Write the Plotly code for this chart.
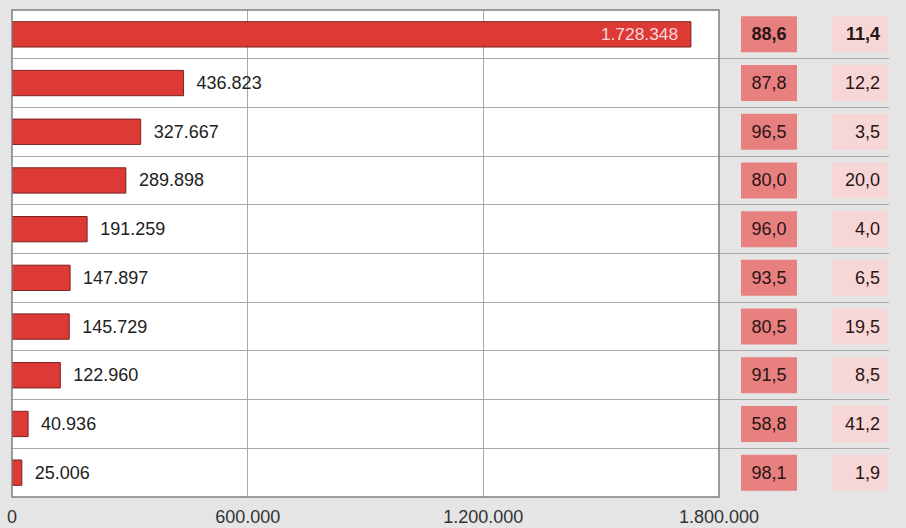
import plotly.graph_objects as go

# ---- data ----
totals = [1728348, 436823, 327667, 289898, 191259, 147897, 145729, 122960, 40936, 25006]
total_labels = ["1.728.348", "436.823", "327.667", "289.898", "191.259",
                "147.897", "145.729", "122.960", "40.936", "25.006"]
share_a = ["88,6", "87,8", "96,5", "80,0", "96,0", "93,5", "80,5", "91,5", "58,8", "98,1"]
share_b = ["11,4", "12,2", "3,5", "20,0", "4,0", "6,5", "19,5", "8,5", "41,2", "1,9"]
x_tickvals = [0, 600000, 1200000, 1800000]
x_ticktext = ["0", "600.000", "1.200.000", "1.800.000"]

W, H = 906, 528
rows = list(range(len(totals)))
NB = "\u00a0"

BG = "#e5e5e5"
BAR = "#dd3a36"
BOX_A = "#e88080"
BOX_B = "#f6d6d6"
GRID = "#a8a8a8"
FONT = "Liberation Sans, Arial, sans-serif"

# label placement: first bar label inside (light), others outside
pos = ["inside" if i == 0 else "outside" for i in rows]
bar_text = [(t + NB * 2) if i == 0 else (NB * 2 + t) for i, t in enumerate(total_labels)]
txt_col = ["#f6d8d8" if i == 0 else "#222222" for i in rows]

def bold_first(lst):
    return [f"<b>{v}</b>" if i == 0 else v for i, v in enumerate(lst)]

fig = go.Figure()
fig.add_trace(go.Bar(
    y=rows, x=totals, orientation="h", width=0.52,
    marker=dict(color=BAR, line=dict(color="#7a2020", width=1)),
    text=bar_text, textposition=pos, insidetextanchor="end",
    textfont=dict(size=18, color=txt_col, family=FONT),
    cliponaxis=False, xaxis="x", yaxis="y", hoverinfo="skip",
))

# right-hand table cells (fixed-size boxes on a secondary axis)
fig.add_trace(go.Bar(
    y=rows, x=[56] * len(rows), base=[22] * len(rows), orientation="h", width=0.74,
    marker=dict(color=BOX_A, line=dict(width=0)),
    text=bold_first(share_a), textposition="inside", insidetextanchor="middle",
    textfont=dict(size=18, color="#2a1414", family=FONT),
    xaxis="x2", yaxis="y", hoverinfo="skip",
))
fig.add_trace(go.Bar(
    y=rows, x=[56] * len(rows), base=[113] * len(rows), orientation="h", width=0.74,
    marker=dict(color=BOX_B, line=dict(width=0)),
    text=[v + NB for v in bold_first(share_b)], textposition="inside", insidetextanchor="end",
    textfont=dict(size=18, color="#2a1414", family=FONT),
    xaxis="x2", yaxis="y", hoverinfo="skip",
))

x0, x1, x2e = 12 / W, 719 / W, 889 / W
y0, y1 = 1 - 497 / H, 1 - 10 / H

fig.update_layout(
    width=W, height=H, autosize=False,
    margin=dict(l=0, r=0, t=0, b=0, autoexpand=False),
    paper_bgcolor=BG, plot_bgcolor="rgba(0,0,0,0)",
    showlegend=False, barmode="overlay",
    font=dict(family=FONT, size=18, color="#333333"),
    xaxis=dict(domain=[x0, x1], range=[0, 1800000], tickvals=x_tickvals, ticktext=x_ticktext,
               showgrid=True, gridcolor=GRID, gridwidth=1, zeroline=False,
               ticks="outside", ticklen=3, tickcolor="rgba(0,0,0,0)", automargin=False,
               tickfont=dict(size=18, color="#333333", family=FONT), anchor="y"),
    xaxis2=dict(domain=[x1, x2e], range=[0, 170], showgrid=False, zeroline=False,
                showticklabels=False, ticks="", anchor="y", automargin=False),
    yaxis=dict(domain=[y0, y1], range=[len(rows) - 0.5, -0.5], automargin=False,
               tickvals=[i + 0.5 for i in rows[:-1]], showticklabels=False, ticks="",
               showgrid=True, gridcolor=GRID, gridwidth=1, zeroline=False),
    shapes=[
        dict(type="rect", xref="x domain", yref="y domain", x0=0, x1=1, y0=0, y1=1,
             fillcolor="white", line=dict(width=0), layer="below"),
        dict(type="rect", xref="x domain", yref="y domain", x0=0, x1=1, y0=0, y1=1,
             fillcolor="rgba(0,0,0,0)", line=dict(color="#808080", width=1.5), layer="above"),
    ],
)

post = ("document.documentElement.style.margin='0';"
        "document.body.style.margin='0';document.body.style.padding='0';"
        "document.body.style.overflow='hidden';"
        "document.documentElement.style.overflow='hidden';")

fig.write_html("out.html", config={"responsive": False, "displayModeBar": False},
               post_script=post)
